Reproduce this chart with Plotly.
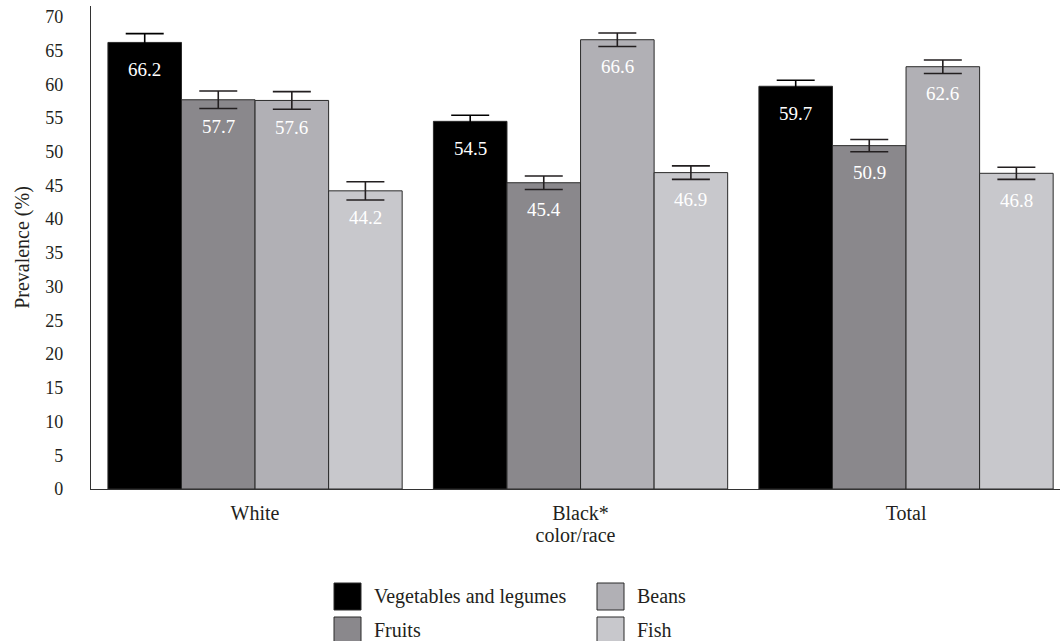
import plotly.graph_objects as go

# Groups (colour/race) and food series
groups = ["White", "Black*", "Total"]
series = ["Vegetables and legumes", "Fruits", "Beans", "Fish"]
colors = ["#000000", "#8a888c", "#b1b0b5", "#c8c8cc"]

veg = [66.2, 54.5, 59.7]
fruits = [57.7, 45.4, 50.9]
beans = [57.6, 66.6, 62.6]
fish = [44.2, 46.9, 46.8]

veg_err = [1.3, 0.9, 0.9]
fruits_err = [1.3, 1.0, 0.9]
beans_err = [1.3, 1.0, 1.0]
fish_err = [1.35, 1.0, 0.9]

y_ticks = list(range(0, 75, 5))

values = [veg, fruits, beans, fish]
errors = [veg_err, fruits_err, beans_err, fish_err]

FONT = "Liberation Serif"
TXT = "#231f20"
bar_w = 0.226
xpos = list(range(len(groups)))

fig = go.Figure()
annotations = []
for j, (name, vals, errs, col) in enumerate(zip(series, values, errors, colors)):
    err_col = "#000000" if j == 0 else "#231f20"
    fig.add_trace(go.Bar(
        x=xpos, y=vals, name=name,
        width=bar_w, offset=(j - 2) * bar_w,
        marker=dict(color=col, line=dict(color="#2a2a2a", width=1)),
        error_y=dict(type="data", array=errs, visible=True,
                     color=err_col, thickness=1.6, width=19),
        showlegend=False,
    ))
    for i, v in enumerate(vals):
        annotations.append(dict(
            x=i + (j - 1.5) * bar_w, y=v, xref="x", yref="y",
            text=f"{v:.1f}", showarrow=False, yshift=-27,
            yanchor="middle", xanchor="center",
            font=dict(family=FONT, size=19, color="#ffffff"),
        ))

# Plot-area geometry (pixels) used to place the legend in paper units
L, R, T, B = 91, 0, 6, 152
W, H = 1060, 641
pw, ph = W - L - R, H - T - B


def px(x):
    return (x - L) / pw


def py(y):
    return (H - B - y) / ph


# Two-column legend: swatch squares with labels
shapes = []
legend_slots = [(334, 583), (334, 617), (597, 583), (597, 617)]
for (lx, ly), name, col in zip(legend_slots, series, colors):
    shapes.append(dict(
        type="rect", xref="paper", yref="paper",
        x0=px(lx), x1=px(lx + 27), y0=py(ly + 27), y1=py(ly),
        fillcolor=col, line=dict(color="#2a2a2a", width=1),
    ))
    annotations.append(dict(
        x=px(lx + 38), y=py(ly + 13), xref="paper", yref="paper",
        text=name, showarrow=False, xanchor="left", yanchor="middle",
        font=dict(family=FONT, size=20, color=TXT),
    ))

fig.update_layout(
    width=W, height=H,
    margin=dict(l=L, r=R, t=T, b=B, pad=0),
    paper_bgcolor="white", plot_bgcolor="white",
    barmode="group",
    font=dict(family=FONT, size=18, color=TXT),
    annotations=annotations,
    shapes=shapes,
    xaxis=dict(
        range=[-0.504, 2.473], tickmode="array", tickvals=xpos,
        ticktext=groups, showgrid=False, zeroline=False,
        showline=True, linecolor="#333333", linewidth=1.3,
        ticks="", ticklabelstandoff=6,
        tickfont=dict(family=FONT, size=20, color=TXT),
        title=dict(text="color/race", standoff=2,
                   font=dict(family=FONT, size=20, color=TXT)),
    ),
    yaxis=dict(
        range=[0, 71.6], tickmode="array", tickvals=y_ticks,
        showgrid=False, zeroline=False,
        showline=True, linecolor="#333333", linewidth=1.3,
        ticks="", ticklabelstandoff=23,
        tickfont=dict(family=FONT, size=18, color=TXT),
        title=dict(text="Prevalence (%)", standoff=10,
                   font=dict(family=FONT, size=20, color=TXT)),
    ),
)

fig.write_html("out.html")
